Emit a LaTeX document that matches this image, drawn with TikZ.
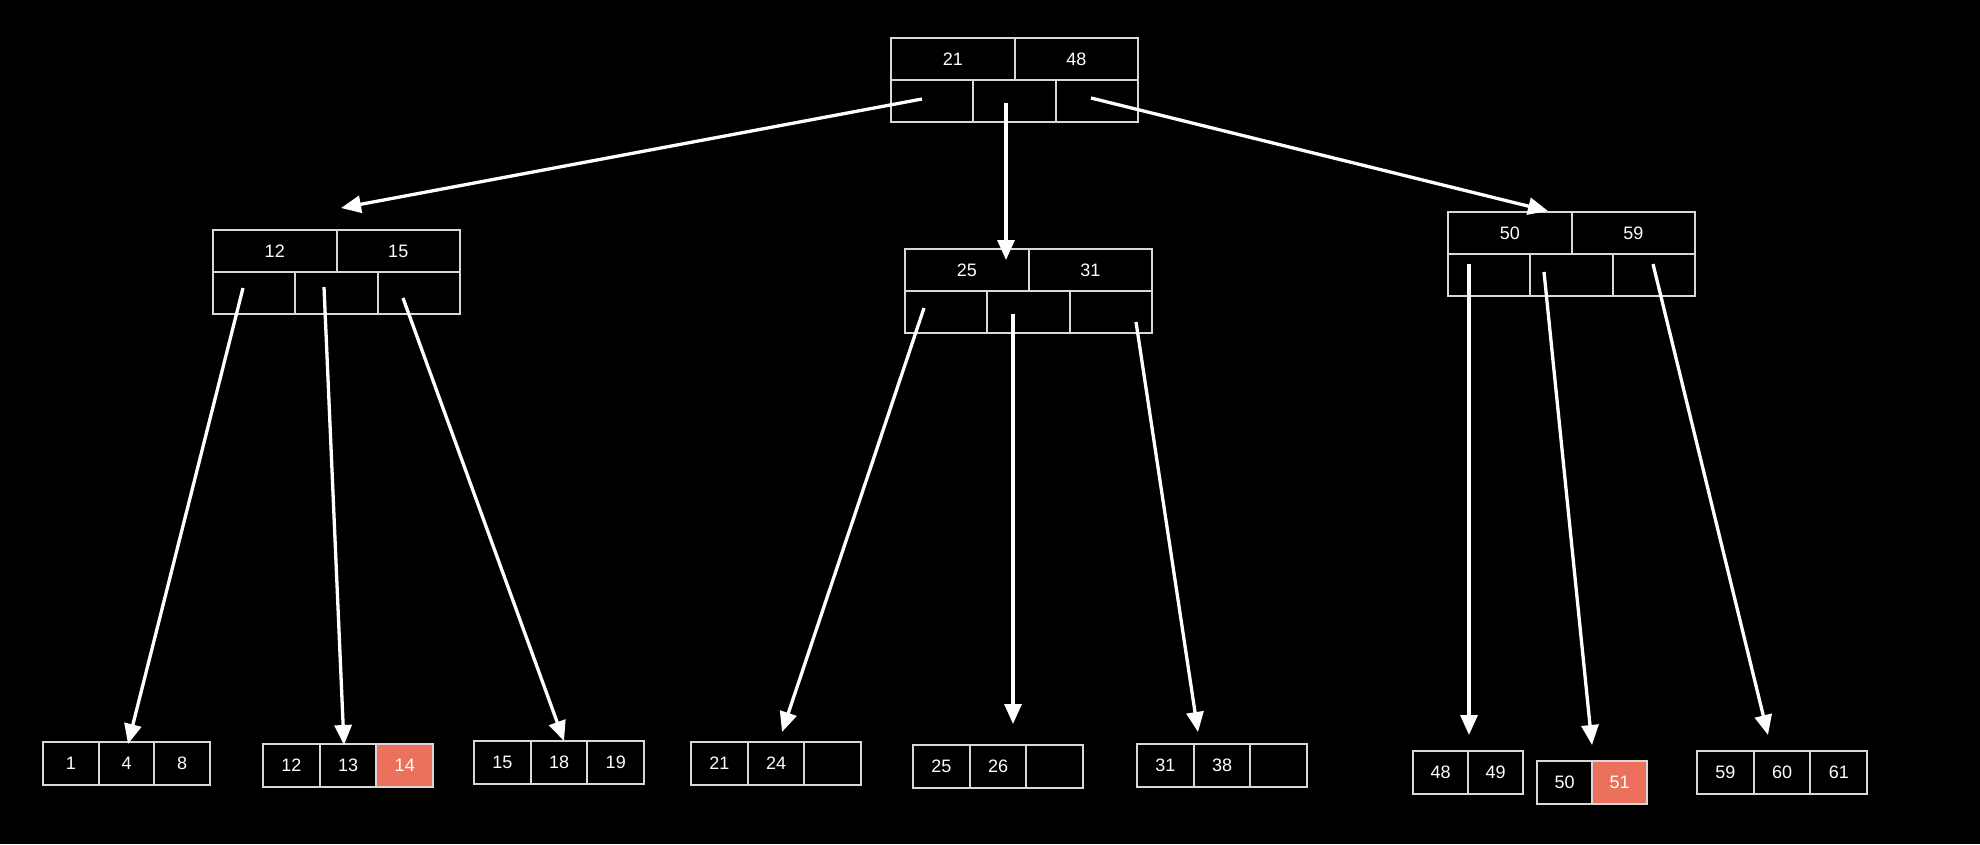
\documentclass[tikz,border=0pt]{standalone}
\usepackage{fontspec}
\setmainfont{Liberation Sans}
\usetikzlibrary{arrows.meta}
\definecolor{boxgray}{RGB}{216,216,216}
\definecolor{hlred}{RGB}{236,113,93}
\tikzset{
  cell/.style={draw=boxgray, line width=2pt, inner sep=0pt, text=white, font=\fontsize{18}{21}\selectfont},
  keycell/.style={cell, minimum width=123.5pt, minimum height=42pt},
  ptrcell/.style={cell, minimum width=82.33pt, minimum height=42pt},
  leafcell/.style={cell, minimum width=56.7pt, minimum height=43pt},
  leafcella/.style={cell, minimum width=55.7pt, minimum height=43pt},
  leafcellb/.style={cell, minimum width=55pt, minimum height=43pt},
  hot/.style={fill=hlred},
  ptr/.style={draw=white, line width=3.3pt, -{Triangle[length=20pt,width=17pt]}}
}
\begin{document}
\begin{tikzpicture}[x=1pt,y=-1pt]
\fill[black] (0,0) rectangle (1980,844);
\useasboundingbox (0,0) rectangle (1980,844);

% root
\node[keycell] (rk1) at (952.75,59) {21};
\node[keycell] (rk2) at (1076.25,59) {48};
\node[ptrcell] (rp1) at (932.17,101) {};
\node[ptrcell] (rp2) at (1014.5,101) {};
\node[ptrcell] (rp3) at (1096.83,101) {};

% left internal
\node[keycell] (lk1) at (274.75,251) {12};
\node[keycell] (lk2) at (398.25,251) {15};
\node[ptrcell] (lp1) at (254.17,293) {};
\node[ptrcell] (lp2) at (336.5,293) {};
\node[ptrcell] (lp3) at (418.83,293) {};

% middle internal
\node[keycell] (mk1) at (966.75,270) {25};
\node[keycell] (mk2) at (1090.25,270) {31};
\node[ptrcell] (mp1) at (946.17,312) {};
\node[ptrcell] (mp2) at (1028.5,312) {};
\node[ptrcell] (mp3) at (1110.83,312) {};

% right internal
\node[keycell] (qk1) at (1509.75,233) {50};
\node[keycell] (qk2) at (1633.25,233) {59};
\node[ptrcell] (qp1) at (1489.17,275) {};
\node[ptrcell] (qp2) at (1571.5,275) {};
\node[ptrcell] (qp3) at (1653.83,275) {};

% leaves
\node[leafcella] (a1) at (70.85,763.5) {1};
\node[leafcella] (a2) at (126.55,763.5) {4};
\node[leafcella] (a3) at (182.25,763.5) {8};

\node[leafcell] (b1) at (291.35,765.5) {12};
\node[leafcell] (b2) at (348.05,765.5) {13};
\node[leafcell,hot] (b3) at (404.75,765.5) {14};

\node[leafcell] (c1) at (502.35,762) {15};
\node[leafcell] (c2) at (559.05,762) {18};
\node[leafcell] (c3) at (615.75,762) {19};

\node[leafcell] (d1) at (719.35,763.5) {21};
\node[leafcell] (d2) at (776.05,763.5) {24};
\node[leafcell] (d3) at (832.75,763.5) {};

\node[leafcell] (e1) at (941.35,766.5) {25};
\node[leafcell] (e2) at (998.05,766.5) {26};
\node[leafcell] (e3) at (1054.75,766.5) {};

\node[leafcell] (f1) at (1165.35,765.5) {31};
\node[leafcell] (f2) at (1222.05,765.5) {38};
\node[leafcell] (f3) at (1278.75,765.5) {};

\node[leafcellb] (g1) at (1440.5,772.5) {48};
\node[leafcellb] (g2) at (1495.5,772.5) {49};

\node[leafcellb] (h1) at (1564.5,782.5) {50};
\node[leafcellb,hot] (h2) at (1619.5,782.5) {51};

\node[leafcell] (i1) at (1725.35,772.5) {59};
\node[leafcell] (i2) at (1782.05,772.5) {60};
\node[leafcell] (i3) at (1838.75,772.5) {61};

% arrow end points
\coordinate (s1) at (922,99);   \coordinate (t1) at (341,208);
\coordinate (s2) at (1006,103); \coordinate (t2) at (1006,260);
\coordinate (s3) at (1091,98);  \coordinate (t3) at (1548,211);

\coordinate (s4) at (243,288);  \coordinate (t4) at (128,744);
\coordinate (s5) at (324,287);  \coordinate (t5) at (344,745);
\coordinate (s6) at (403,298);  \coordinate (t6) at (564,741);

\coordinate (s7) at (924,308);  \coordinate (t7) at (782,732);
\coordinate (s8) at (1013,314); \coordinate (t8) at (1013,724);
\coordinate (s9) at (1136,322); \coordinate (t9) at (1198,732);

\coordinate (s10) at (1469,264); \coordinate (t10) at (1469,735);
\coordinate (s11) at (1544,272); \coordinate (t11) at (1592,745);
\coordinate (s12) at (1653,264); \coordinate (t12) at (1768,735);

\foreach \k in {1,...,12} { \draw[ptr] (s\k) -- (t\k); }
\end{tikzpicture}
\end{document}
